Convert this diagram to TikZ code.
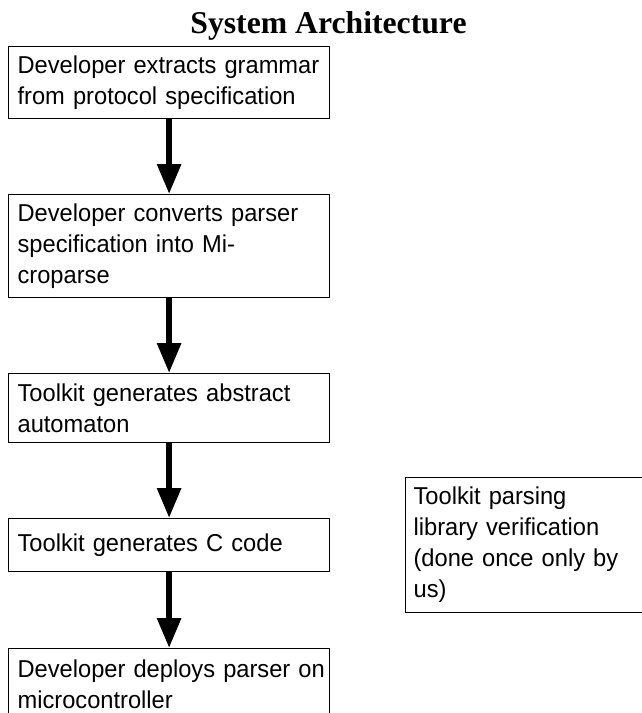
\documentclass[tikz,border=0pt]{standalone}
\usepackage{fontspec}
\setmainfont{Liberation Sans}[FakeStretch=0.97]
\newfontfamily\titlefont{Liberation Serif}
\usetikzlibrary{arrows.meta}
\tikzset{
  box/.style={draw=black, line width=1.2pt, anchor=north west, inner xsep=9pt, inner ysep=0pt,
    text width=303pt, minimum width=321pt, align=left,
    font=\fontsize{24.4}{31}\selectfont},
  flowarrow/.style={line width=6pt, -{Triangle[width=23pt,length=30pt]}}
}
\begin{document}
\begin{tikzpicture}[x=1pt,y=-1pt]
\path[use as bounding box, clip] (0,0) rectangle (642,713);
\node[anchor=base, font=\titlefont\bfseries\fontsize{31.7}{38}\selectfont] (title) at (328.5,33) {System Architecture};
\node[box, minimum height=72pt] (b1) at (8,46) {\mbox{Developer extracts grammar}\\\mbox{from protocol specification}};
\node[box, minimum height=103pt] (b2) at (8,194) {\mbox{Developer converts parser}\\\mbox{specification into Mi-}\\\mbox{croparse}};
\node[box, minimum height=69pt] (b3) at (8,373) {\mbox{Toolkit generates abstract}\\\mbox{automaton}};
\node[box, minimum height=53pt] (b4) at (8,518) {\mbox{Toolkit generates C code}};
\node[box, minimum height=72pt] (b5) at (8,648) {\mbox{Developer deploys parser on}\\\mbox{microcontroller}};
\node[box, minimum height=135pt, text width=229pt, minimum width=245pt, inner xsep=8pt] (lib) at (405,477) {\mbox{Toolkit parsing}\\\mbox{library verification}\\\mbox{(done once only by}\\\mbox{us)}};
\draw[flowarrow] (b1.south) -- (b2.north);
\draw[flowarrow] (b2.south) -- (b3.north);
\draw[flowarrow] (b3.south) -- (b4.north);
\draw[flowarrow] (b4.south) -- (b5.north);
\end{tikzpicture}
\end{document}
